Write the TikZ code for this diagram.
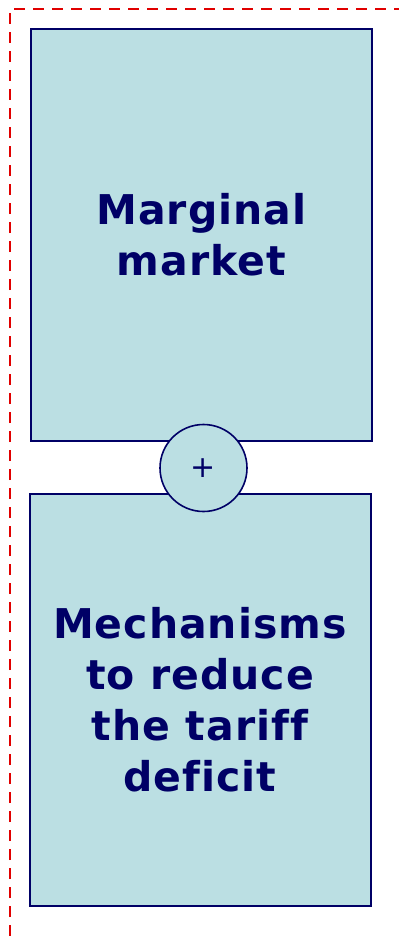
\documentclass[tikz,border=0pt]{standalone}
\usepackage{fontspec}
\setmainfont{DejaVu Sans}
\newfontfamily\blockfont[LetterSpace=2.5,Ligatures=NoCommon]{DejaVu Sans}
\definecolor{navy}{RGB}{0,0,102}
\definecolor{boxfill}{RGB}{187,223,227}
\definecolor{frame}{RGB}{224,0,0}

\begin{document}
\begin{tikzpicture}[x=1pt, y=-1pt,
  block/.style={draw=navy, line width=2pt, fill=boxfill, text=navy,
    minimum width=341pt, minimum height=412pt, align=center,
    font=\blockfont\fontsize{41}{51}\selectfont\bfseries},
  joiner/.style={circle, draw=navy, line width=1.6pt, fill=boxfill,
    text=navy, minimum size=87pt, inner sep=0pt,
    font=\fontsize{30}{34}\selectfont}]

\useasboundingbox (0,0) rectangle (399,936);

% dashed frame
\draw[frame, line width=2.4pt, dash pattern=on 11pt off 8pt]
  (10,936)--(10,9)--(399,9);

% boxes
\node[block] (market) at (201.5,235) {Marginal\\market};
\node[block] (deficit) at (200,700) {Mechanisms\\to reduce\\the tariff\\deficit};

% plus
\node[joiner] (plus) at (203.5,468) {+};

\end{tikzpicture}
\end{document}
